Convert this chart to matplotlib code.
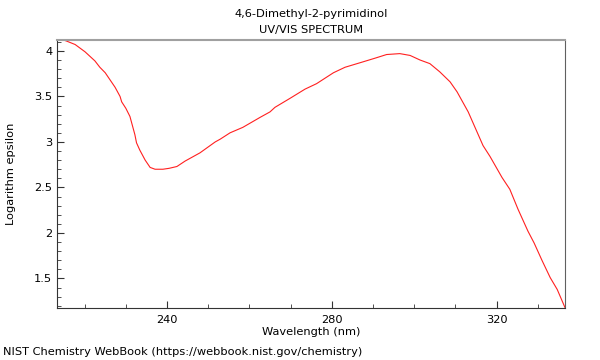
import matplotlib
matplotlib.use("Agg")
import matplotlib.pyplot as plt
from matplotlib.ticker import MultipleLocator

# spectrum
wavelength = [213.3, 214.8, 215.5, 217.7, 220.1, 222.5, 223.7, 225.0, 227.4, 228.6,
              229.0, 230.0, 231.0, 232.2, 232.6, 233.4, 234.7, 235.9, 237.1, 239.0,
              240.5, 242.4, 244.4, 248.0, 251.7, 252.9, 255.3, 258.4, 262.6, 265.0,
              266.2, 269.9, 273.5, 276.3, 280.4, 283.2, 287.6, 290.5, 293.3, 296.5,
              299.0, 301.4, 303.8, 306.2, 308.7, 310.4, 313.1, 316.7, 318.4, 321.3,
              323.2, 325.2, 327.6, 329.1, 331.0, 333.0, 334.7, 336.6]
log_eps = [4.12, 4.12, 4.11, 4.07, 3.99, 3.89, 3.82, 3.76, 3.60, 3.50,
           3.44, 3.37, 3.28, 3.08, 2.99, 2.91, 2.80, 2.72, 2.70, 2.70,
           2.71, 2.73, 2.79, 2.88, 3.00, 3.03, 3.10, 3.16, 3.27, 3.33,
           3.38, 3.48, 3.58, 3.64, 3.76, 3.82, 3.88, 3.92, 3.96, 3.97,
           3.95, 3.90, 3.86, 3.77, 3.66, 3.55, 3.33, 2.96, 2.84, 2.61,
           2.48, 2.26, 2.02, 1.89, 1.70, 1.51, 1.38, 1.18]

x_major = [240, 280, 320]

fig = plt.figure(figsize=(6, 3.6), dpi=100)
ax = fig.add_axes([0.095, 0.1455, 0.8467, 0.7435])

ax.plot(wavelength, log_eps, color="#ff2020", lw=0.8)

ax.set_xlim(213.3, 336.6)
ax.set_ylim(1.18, 4.12)
ax.set_xticks(x_major)
ax.xaxis.set_minor_locator(MultipleLocator(10))
ax.yaxis.set_major_locator(MultipleLocator(0.5))
ax.yaxis.set_minor_locator(MultipleLocator(0.1))
ax.tick_params(which="both", direction="in", top=False, right=False,
               labelsize=8.2, color="#333333")
ax.tick_params(which="major", length=5)
ax.tick_params(which="minor", length=3)
ax.tick_params(axis="x", pad=5)
ax.set_yticklabels([f"{v:g}" for v in ax.get_yticks()])

ax.spines["top"].set_color("#a0a0a0")
ax.spines["top"].set_linewidth(1.5)
ax.spines["right"].set_color("#606060")
ax.spines["left"].set_color("#333333")
ax.spines["bottom"].set_color("#333333")

ax.set_xlabel("Wavelength (nm)", fontsize=8.2, labelpad=2)
ax.set_ylabel("Logarithm epsilon", fontsize=8.2, labelpad=13)
fig.text(0.518, 0.961, "4,6-Dimethyl-2-pyrimidinol", ha="center", va="center", fontsize=8.2)
fig.text(0.518, 0.918, "UV/VIS SPECTRUM", ha="center", va="center", fontsize=8.2)
fig.text(0.005, 0.022, "NIST Chemistry WebBook (https://webbook.nist.gov/chemistry)",
         ha="left", va="center", fontsize=8.2)

fig.savefig("out.png", dpi=100)
